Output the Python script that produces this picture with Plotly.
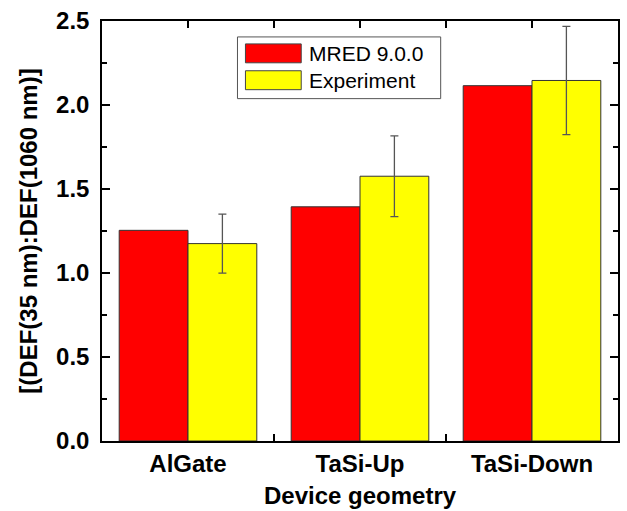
import plotly.graph_objects as go

categories = ["AlGate", "TaSi-Up", "TaSi-Down"]
series_names = ["MRED 9.0.0", "Experiment"]
mred_values = [1.254, 1.394, 2.115]
experiment_values = [1.175, 1.576, 2.146]
experiment_errors = [0.176, 0.240, 0.322]
series_colors = ["#FF0000", "#FFFF00"]
x_title = "Device geometry"
y_title = "[(DEF(35 nm):DEF(1060 nm)]"

FONT = "Liberation Sans"
x_idx = list(range(len(categories)))

fig = go.Figure()
fig.add_trace(go.Bar(
    x=x_idx, y=mred_values, name=series_names[0],
    marker=dict(color=series_colors[0], line=dict(color="#333333", width=1)),
    showlegend=False,
))
fig.add_trace(go.Bar(
    x=x_idx, y=experiment_values, name=series_names[1],
    marker=dict(color=series_colors[1], line=dict(color="#333333", width=1)),
    error_y=dict(type="data", array=experiment_errors, visible=True,
                 color="#555555", thickness=1.3, width=4),
    showlegend=False,
))

# Legend drawn as boxed swatches + text
leg_x0, leg_x1, leg_y0, leg_y1 = 238, 442, 35, 97
def px_x(p):
    return (p - 102) / 518.0
def px_y(p):
    return (441 - p) / 422.0

shapes = [
    dict(type="rect", xref="paper", yref="paper",
         x0=px_x(leg_x0), x1=px_x(leg_x1), y0=px_y(leg_y1), y1=px_y(leg_y0),
         line=dict(color="#555555", width=1), fillcolor="white", layer="above"),
]
annotations = []
rows = [(42, 61), (69, 88)]
for i, (ya, yb) in enumerate(rows):
    shapes.append(dict(type="rect", xref="paper", yref="paper",
                       x0=px_x(246), x1=px_x(302), y0=px_y(yb), y1=px_y(ya),
                       line=dict(color="#444444", width=1), fillcolor=series_colors[i],
                       layer="above"))
    annotations.append(dict(xref="paper", yref="paper", x=px_x(308), y=px_y((ya + yb) / 2),
                            text=series_names[i], showarrow=False, xanchor="left",
                            yanchor="middle", font=dict(family=FONT, size=21, color="black")))
annotations.append(dict(xref="paper", yref="paper", x=0.5, y=px_y(496),
                        text=x_title, showarrow=False, xanchor="center", yanchor="middle",
                        font=dict(family=FONT, size=24, weight="bold", color="black")))

fig.update_layout(
    width=627, height=511,
    margin=dict(l=102, r=7, t=19, b=70),
    paper_bgcolor="white", plot_bgcolor="white",
    barmode="group", bargap=0.2, bargroupgap=0,
    font=dict(family=FONT, color="black"),
    shapes=shapes, annotations=annotations,
)
fig.update_xaxes(
    range=[-0.5, 2.5], tickvals=x_idx, ticktext=categories,
    tickfont=dict(family=FONT, size=24, weight="bold", color="black"),
    ticks="inside", ticklen=7, tickwidth=1.5, tickcolor="black",
    minor=dict(tickvals=[0.5, 1.5], ticks="inside", ticklen=7, tickwidth=1.5, tickcolor="black"),
    showline=True, linecolor="black", linewidth=1.5, mirror="ticks",
    showgrid=False, zeroline=False, layer="below traces",
    ticklabelstandoff=0,
)
fig.update_yaxes(
    range=[0, 2.5], tickvals=[0, 0.5, 1.0, 1.5, 2.0, 2.5],
    ticktext=["0.0", "0.5", "1.0", "1.5", "2.0", "2.5"],
    tickfont=dict(family=FONT, size=24, weight="bold", color="black"),
    ticks="inside", ticklen=8, tickwidth=1.5, tickcolor="black",
    minor=dict(dtick=0.25, ticks="inside", ticklen=5, tickwidth=1.5, tickcolor="black"),
    showline=True, linecolor="black", linewidth=1.5, mirror="ticks",
    showgrid=False, zeroline=False, layer="below traces",
    ticklabelstandoff=6,
    title=dict(text=y_title,
               font=dict(family=FONT, size=24, weight="bold", color="black"), standoff=12),
)

fig.write_html("out.html", config={"displayModeBar": False},
               post_script="document.body.style.margin='0';document.body.style.overflow='hidden';")
